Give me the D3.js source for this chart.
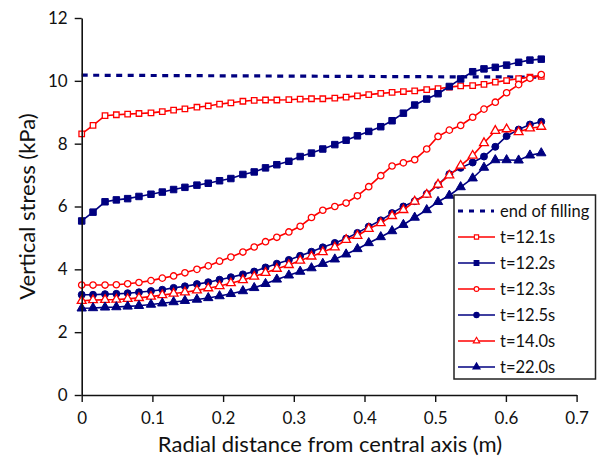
<!DOCTYPE html>
<html>
<head>
<meta charset="utf-8">
<script src="https://cdn.jsdelivr.net/npm/d3@7"></script>
<style>
  body { margin: 0; background: #fff; }
  svg { display: block; font-family: Lato, "Open Sans", sans-serif; }
</style>
</head>
<body>
<svg id="chart" width="600" height="458"></svg>
<script>
// radial positions (m)
const radial = [0, 0.016, 0.033, 0.049, 0.065, 0.081, 0.098, 0.114, 0.130, 0.146,
  0.163, 0.179, 0.195, 0.211, 0.228, 0.244, 0.260, 0.276, 0.293, 0.309,
  0.325, 0.341, 0.358, 0.374, 0.390, 0.406, 0.423, 0.439, 0.455, 0.471,
  0.488, 0.504, 0.520, 0.536, 0.553, 0.569, 0.585, 0.601, 0.618, 0.634, 0.650];

const endFillX = [0, 0.1, 0.2, 0.3, 0.4, 0.5, 0.65];
const endFill = [10.18, 10.17, 10.16, 10.15, 10.14, 10.13, 10.12];

const t12_1 = [8.31, 8.58, 8.89, 8.92, 8.94, 8.96, 8.98, 9.02, 9.07, 9.11,
  9.16, 9.20, 9.26, 9.30, 9.35, 9.38, 9.39, 9.39, 9.40, 9.42,
  9.43, 9.43, 9.45, 9.48, 9.52, 9.56, 9.60, 9.63, 9.66, 9.68,
  9.72, 9.75, 9.80, 9.84, 9.85, 9.89, 9.96, 10.01, 10.07, 10.12, 10.14];
const t12_2 = [5.54, 5.82, 6.15, 6.21, 6.25, 6.32, 6.39, 6.46, 6.54, 6.61,
  6.68, 6.74, 6.82, 6.89, 7.02, 7.10, 7.23, 7.33, 7.44, 7.59,
  7.70, 7.83, 7.97, 8.11, 8.25, 8.39, 8.54, 8.73, 8.97, 9.23,
  9.42, 9.59, 9.82, 10.06, 10.29, 10.38, 10.43, 10.50, 10.59, 10.66, 10.69];
const t12_3 = [3.50, 3.50, 3.50, 3.51, 3.54, 3.58, 3.64, 3.72, 3.79, 3.89,
  4.00, 4.11, 4.26, 4.39, 4.55, 4.71, 4.88, 5.02, 5.19, 5.37,
  5.65, 5.88, 6.00, 6.11, 6.34, 6.63, 6.98, 7.29, 7.39, 7.49,
  7.83, 8.23, 8.43, 8.58, 8.84, 9.10, 9.32, 9.62, 9.88, 10.08, 10.20];
const t12_5 = [3.19, 3.19, 3.21, 3.22, 3.24, 3.27, 3.31, 3.35, 3.41, 3.46,
  3.53, 3.59, 3.67, 3.75, 3.84, 3.93, 4.06, 4.18, 4.30, 4.43,
  4.56, 4.70, 4.84, 4.98, 5.16, 5.36, 5.56, 5.79, 6.00, 6.17,
  6.40, 6.69, 7.03, 7.23, 7.40, 7.59, 7.90, 8.24, 8.45, 8.61, 8.70];
const t14_0 = [3.00, 3.02, 3.03, 3.04, 3.06, 3.09, 3.13, 3.18, 3.23, 3.27,
  3.33, 3.40, 3.47, 3.56, 3.66, 3.77, 3.89, 4.02, 4.14, 4.28,
  4.41, 4.55, 4.70, 4.94, 5.07, 5.29, 5.47, 5.70, 5.89, 6.16,
  6.38, 6.70, 6.99, 7.30, 7.62, 8.02, 8.41, 8.46, 8.37, 8.49, 8.54];
const t22_0 = [2.76, 2.77, 2.79, 2.80, 2.82, 2.84, 2.88, 2.92, 2.96, 3.00,
  3.04, 3.09, 3.15, 3.22, 3.31, 3.41, 3.54, 3.68, 3.81, 3.93,
  4.04, 4.18, 4.32, 4.48, 4.65, 4.84, 5.03, 5.22, 5.42, 5.65,
  5.89, 6.15, 6.35, 6.62, 6.90, 7.24, 7.48, 7.48, 7.47, 7.63, 7.70];

const xTicks = [0, 0.1, 0.2, 0.3, 0.4, 0.5, 0.6, 0.7];
const yTicks = [0, 2, 4, 6, 8, 10, 12];

const red = "#ff0000";
const navy = "#000080";

const series = [
  { name: "t=12.1s", values: t12_1, color: red, shape: d3.symbolSquare, filled: false },
  { name: "t=12.2s", values: t12_2, color: navy, shape: d3.symbolSquare, filled: true },
  { name: "t=12.3s", values: t12_3, color: red, shape: d3.symbolCircle, filled: false },
  { name: "t=12.5s", values: t12_5, color: navy, shape: d3.symbolCircle, filled: true },
  { name: "t=14.0s", values: t14_0, color: red, shape: d3.symbolTriangle, filled: false },
  { name: "t=22.0s", values: t22_0, color: navy, shape: d3.symbolTriangle, filled: true }
];

const svg = d3.select("#chart");

const x = d3.scaleLinear().domain([0, 0.7]).range([81.7, 576.6]);
const y = d3.scaleLinear().domain([0, 12]).range([395, 18]);

const markSize = s => {
  if (s.shape === d3.symbolSquare) return s.filled ? 42 : 30;
  if (s.shape === d3.symbolCircle) return s.filled ? 38 : 32;
  return s.filled ? 38 : 34;
};

// end of filling
const line = d3.line().x(d => x(d[0])).y(d => y(d[1]));
svg.append("path")
  .datum(endFillX.map((v, i) => [v, endFill[i]]))
  .attr("d", line)
  .attr("fill", "none")
  .attr("stroke", navy)
  .attr("stroke-width", 3.2)
  .attr("stroke-dasharray", "6,5.5");

series.forEach(s => {
  const pts = radial.map((r, i) => [r, s.values[i]]);
  const g = svg.append("g");
  g.append("path")
    .datum(pts)
    .attr("d", line)
    .attr("fill", "none")
    .attr("stroke", s.color)
    .attr("stroke-width", 1.6);
  g.selectAll("path.mk")
    .data(pts)
    .join("path")
    .attr("class", "mk")
    .attr("transform", d => `translate(${x(d[0])},${y(d[1])})`)
    .attr("d", d3.symbol().type(s.shape).size(markSize(s)))
    .attr("fill", s.filled ? s.color : "#fff")
    .attr("stroke", s.color)
    .attr("stroke-width", s.filled ? 1 : 1.3);
});

// axes
const xAxis = svg.append("g")
  .attr("transform", "translate(0,395)")
  .call(d3.axisBottom(x).tickValues(xTicks).tickSize(7).tickSizeOuter(0)
    .tickFormat(d => d === 0 ? "0" : d3.format(".1f")(d)));
const yAxis = svg.append("g")
  .attr("transform", "translate(81.7,0)")
  .call(d3.axisLeft(y).tickValues(yTicks).tickSize(7).tickSizeOuter(0));

[xAxis, yAxis].forEach(a => {
  a.select(".domain").attr("stroke", "#111").attr("stroke-width", 1.6);
  a.selectAll(".tick line").attr("stroke", "#111").attr("stroke-width", 1.4);
  a.selectAll(".tick text").attr("fill", "#111").style("font-size", "17px")
    .style("font-family", "Lato, 'Open Sans', sans-serif");
});
xAxis.selectAll(".tick text").attr("dy", 0).attr("y", 29);
yAxis.selectAll(".tick text").attr("x", -14);

svg.append("text")
  .attr("x", 330)
  .attr("y", 452)
  .attr("text-anchor", "middle")
  .style("font-size", "22px")
  .attr("fill", "#111")
  .text("Radial distance from central axis (m)");

svg.append("text")
  .attr("transform", "translate(35,206.5) rotate(-90)")
  .attr("text-anchor", "middle")
  .style("font-size", "22px")
  .attr("fill", "#111")
  .text("Vertical stress (kPa)");

// legend
const legend = svg.append("g");
legend.append("rect")
  .attr("x", 454).attr("y", 195)
  .attr("width", 141.5).attr("height", 184)
  .attr("fill", "#fff")
  .attr("stroke", "#222")
  .attr("stroke-width", 1.5);

const legendItems = [{ name: "end of filling", dashed: true }].concat(series);
legendItems.forEach((s, i) => {
  const ly = 211 + i * 26;
  if (s.dashed) {
    legend.append("line")
      .attr("x1", 458).attr("x2", 494).attr("y1", ly).attr("y2", ly)
      .attr("stroke", navy).attr("stroke-width", 3)
      .attr("stroke-dasharray", "5,6");
  } else {
    legend.append("line")
      .attr("x1", 458).attr("x2", 495).attr("y1", ly).attr("y2", ly)
      .attr("stroke", s.color).attr("stroke-width", 1.4);
    legend.append("path")
      .attr("transform", `translate(476.5,${ly})`)
      .attr("d", d3.symbol().type(s.shape).size(s.filled ? 22 : 18))
      .attr("fill", s.filled ? s.color : "#fff")
      .attr("stroke", s.color)
      .attr("stroke-width", 1.1);
  }
  legend.append("text")
    .attr("x", 500).attr("y", ly)
    .attr("dy", "0.35em")
    .style("font-size", "16.5px")
    .attr("fill", "#111")
    .text(s.dashed ? "end of filling" : s.name);
});
</script>
</body>
</html>
